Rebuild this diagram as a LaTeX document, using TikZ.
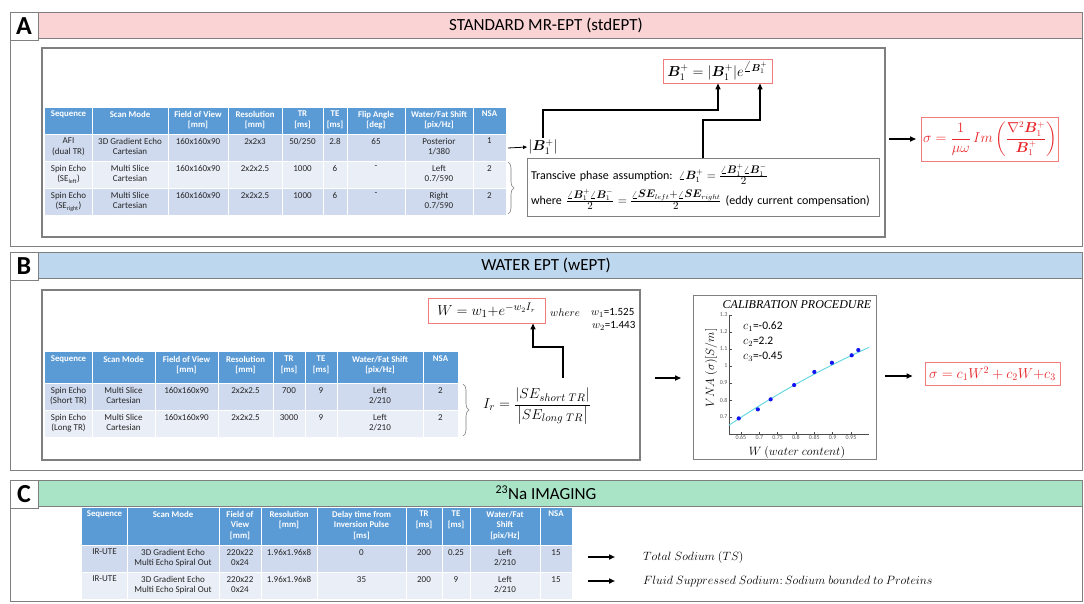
\documentclass[tikz,border=0pt]{standalone}
\usepackage{amsmath,bm}
\usepackage{fontspec}
\setmainfont{Carlito}
\newfontfamily\lserif{Liberation Serif}
\usetikzlibrary{arrows.meta,decorations.pathreplacing}
\definecolor{thead}{HTML}{5B9BD5}
\definecolor{rowa}{HTML}{CFDAEE}
\definecolor{rowb}{HTML}{E9EEF7}
\definecolor{pinkhd}{HTML}{FAD3D4}
\definecolor{bluehd}{HTML}{BDD7EE}
\definecolor{greenhd}{HTML}{A9E4C6}
\definecolor{framec}{HTML}{7F7F7F}
\definecolor{eqred}{HTML}{E8262A}
\definecolor{boxred}{HTML}{F07C7C}
\definecolor{fitcyan}{HTML}{5ED6DE}
\definecolor{dotblue}{HTML}{1414F0}
\newcommand\rowcells[4]{\foreach \n/\x/\t in {#4}{\node[#1] (#2\n) at (\x,#3) {\t};}}
\newcommand\numfr[2]{\frac{\text{\fontsize{10.5}{12}\selectfont$#1$}}{\text{\fontsize{10.5}{12}\selectfont$#2$}}}
\tikzset{
  hdrtxt/.style={anchor=north, align=center, text=white, font=\fontsize{8.8}{10.5}\selectfont\bfseries, inner sep=0pt},
  celltxt/.style={anchor=north, align=center, text=black!85, font=\fontsize{9}{10.5}\selectfont, inner sep=0pt},
  panelframe/.style={draw=framec, line width=0.7pt},
  innerframe/.style={draw=framec, line width=1.1pt},
  hbar/.style={draw=framec, line width=0.6pt, minimum width=1072pt, minimum height=26pt, font=\fontsize{17}{19}\selectfont, inner sep=0pt},
  letterbox/.style={fill=white, draw=framec, line width=0.6pt, minimum width=28pt, minimum height=28pt, font=\fontsize{26}{28}\selectfont\bfseries, inner sep=0pt},
  redbox/.style={draw=boxred, line width=0.9pt, inner sep=2pt},
  arr/.style={-{Triangle[length=6pt,width=5pt]}, line width=1.3pt},
  bigarr/.style={-{Triangle[length=6pt,width=5pt]}, line width=1.5pt},
  gridline/.style={white, line width=1pt},
  bracestyle/.style={decorate, decoration={brace, amplitude=6pt}, draw=framec, line width=0.6pt},
  ticklab/.style={font=\fontsize{6}{7}\selectfont, text=black!65, inner sep=1.2pt}
}
\begin{document}
\begin{tikzpicture}[x=1pt,y=-1pt]
\useasboundingbox (0,0) rectangle (1084,603);
\fill[white] (0,0) rectangle (1084,603);

% ---------- panel frames and headers ----------
\draw[panelframe] (10,12) rectangle (1082,246);
\draw[panelframe] (10,252) rectangle (1082,470);
\draw[panelframe] (10,480) rectangle (1082,601);
\node[hbar, fill=pinkhd] (hA) at (546,25) {STANDARD MR-EPT (stdEPT)};
\node[hbar, fill=bluehd] (hB) at (546,265) {WATER EPT (wEPT)};
\node[hbar, fill=greenhd] (hC) at (546,493) {\textsuperscript{23}Na IMAGING};
\node[letterbox] (lA) at (24,26) {A};
\node[letterbox] (lB) at (24,266) {B};
\node[letterbox] (lC) at (24,494) {C};

% ================= PANEL A =================
\draw[innerframe] (42,48) rectangle (885,237);
% table A
\fill[thead] (45,108) rectangle (506,134);
\fill[rowa] (45,134) rectangle (506,161);
\fill[rowb] (45,161) rectangle (506,188);
\fill[rowa] (45,188) rectangle (506,215);
\foreach \x in {92,168,228,282,323,347,405,473} \draw[gridline] (\x,108) -- (\x,215);
\foreach \y in {134,161,188} \draw[gridline] (45,\y) -- (506,\y);
\rowcells{hdrtxt}{ah}{111}{1/68.5/{Sequence}, 2/130/{Scan Mode}, 3/198/{Field of View\\{[mm]}}, 4/255/{Resolution\\{[mm]}}, 5/302.5/{TR\\{[ms]}}, 6/335/{TE\\{[ms]}}, 7/376/{Flip Angle\\{[deg]}}, 8/439/{Water/Fat Shift\\{[pix/Hz]}}, 9/489.5/{NSA}}
\rowcells{celltxt}{aa}{138}{1/68.5/{AFI\\(dual TR)}, 2/130/{3D Gradient Echo\\Cartesian}, 3/198/{160x160x90}, 4/255/{2x2x3}, 5/302.5/{50/250}, 6/335/{2.8}, 7/376/{65}, 8/439/{Posterior\\1/380}, 9/489.5/{1}}
\rowcells{celltxt}{ab}{165}{1/68.5/{Spin Echo\\(SE\textsubscript{left})}, 2/130/{Multi Slice\\Cartesian}, 3/198/{160x160x90}, 4/255/{2x2x2.5}, 5/302.5/{1000}, 6/335/{6}, 7/376/{-}, 8/439/{Left\\0.7/590}, 9/489.5/{2}}
\rowcells{celltxt}{ac}{192}{1/68.5/{Spin Echo\\(SE\textsubscript{right})}, 2/130/{Multi Slice\\Cartesian}, 3/198/{160x160x90}, 4/255/{2x2x2.5}, 5/302.5/{1000}, 6/335/{6}, 7/376/{-}, 8/439/{Right\\0.7/590}, 9/489.5/{2}}

% magnitude and formulas
\node[font=\fontsize{14.5}{16}\selectfont, inner sep=1pt] (b1abs) at (543,147) {$|\bm{B}_1^+|$};
\coordinate (tAout) at (508,148);
\draw[-{Triangle[length=4pt,width=3.5pt]}, line width=0.8pt] (tAout) -- (b1abs.west);
\node[redbox, font=\fontsize{14.5}{16}\selectfont, minimum width=109pt, minimum height=24pt] (b1eq) at (717.5,71) {$\bm{B}_1^+ = |\bm{B}_1^+|e^{\angle\bm{B}_1^+}$};
\node[draw=framec, line width=0.9pt, minimum width=352pt, minimum height=58pt, text width=344pt, align=left, font=\fontsize{12}{14}\selectfont, inner sep=4pt] (phase) at (703,187)
 {Transcive phase assumption: $\angle\bm{B}_1^+ = \numfr{\angle\bm{B}_1^+\angle\bm{B}_1^-}{2}$\\[4pt]
  where $\numfr{\angle\bm{B}_1^+\angle\bm{B}_1^-}{2} = \numfr{\angle\bm{SE}_{left}{+}\angle\bm{SE}_{right}}{2}$ (eddy current compensation)};
\coordinate (j1) at (718,110);
\draw[arr] (b1abs.north) |- (j1) -- (j1 |- b1eq.south);
\coordinate (ph2) at (703,158);
\coordinate (j2) at (760,120);
\draw[arr] (ph2) |- (j2) -- (j2 |- b1eq.south);
\coordinate (brA1) at (508,162);
\coordinate (brA2) at (508,214);
\draw[bracestyle] (brA1) -- (brA2);
% conductivity
\node[redbox, text=eqred, font=\fontsize{13.5}{15}\selectfont, minimum width=137pt, minimum height=44pt, inner sep=1pt] (sigA) at (990,139)
 {$\sigma = \dfrac{1}{\mu\omega}\, Im\left(\dfrac{\nabla^2\bm{B}_1^+}{\bm{B}_1^+}\right)$};
\coordinate (aout) at (889,139);
\draw[bigarr, shorten >=5pt] (aout) -- (sigA.west);

% ================= PANEL B =================
\draw[innerframe] (42,290) rectangle (640,460);
\fill[thead] (45,352) rectangle (458,383);
\fill[rowa] (45,383) rectangle (458,410);
\fill[rowb] (45,410) rectangle (458,437);
\foreach \x in {92,155,218,273,305,337,423} \draw[gridline] (\x,352) -- (\x,437);
\foreach \y in {383,410} \draw[gridline] (45,\y) -- (458,\y);
\rowcells{hdrtxt}{bh}{356}{1/68.5/{Sequence}, 2/123.5/{Scan Mode}, 3/186.5/{Field of View\\{[mm]}}, 4/245.5/{Resolution\\{[mm]}}, 5/289/{TR\\{[ms]}}, 6/321/{TE\\{[ms]}}, 7/380/{Water/Fat Shift\\{[pix/Hz]}}, 8/440.5/{NSA}}
\rowcells{celltxt}{ba}{387}{1/68.5/{Spin Echo\\(Short TR)}, 2/123.5/{Multi Slice\\Cartesian}, 3/186.5/{160x160x90}, 4/245.5/{2x2x2.5}, 5/289/{700}, 6/321/{9}, 7/380/{Left\\2/210}, 8/440.5/{2}}
\rowcells{celltxt}{bb}{414}{1/68.5/{Spin Echo\\(Long TR)}, 2/123.5/{Multi Slice\\Cartesian}, 3/186.5/{160x160x90}, 4/245.5/{2x2x2.5}, 5/289/{3000}, 6/321/{9}, 7/380/{Left\\2/210}, 8/440.5/{2}}
\coordinate (brB1) at (463,384);
\coordinate (brB2) at (463,436);
\draw[bracestyle] (brB1) -- (brB2);
\node[font=\fontsize{15.5}{17}\selectfont, inner sep=0pt] (ir) at (537,406) {$I_r = \dfrac{\left|SE_{short\ TR}\right|}{\left|SE_{long\ TR}\right|}$};
\node[redbox, font=\fontsize{15}{17}\selectfont, minimum width=117pt, minimum height=25pt, inner sep=1pt] (wbox) at (486.5,310.5) {$W = w_1{+}e^{-w_2 I_r}$};
\node[anchor=west, font=\fontsize{11}{12}\selectfont, inner sep=0pt] (wh) at (550,313) {$where$};
\node[anchor=west, font=\fontsize{11}{12}\selectfont, inner sep=0pt] (w1) at (591,313) {$w_1$=1.525};
\node[anchor=west, font=\fontsize{11}{12}\selectfont, inner sep=0pt] (w2) at (592,326) {$w_2$=1.443};
\coordinate (irtop) at (563,378);
\coordinate (jw) at (533,347);
\draw[arr] (irtop) |- (jw) -- (jw |- wbox.south);
% calibration plot
\node[draw=framec, line width=0.9pt, minimum width=183pt, minimum height=164pt, inner sep=0pt] (calib) at (785,377.5) {};
\coordinate (bout) at (655,378);
\draw[bigarr, shorten >=12pt] (bout) -- (calib.west |- bout);
\node[font=\fontsize{12}{14}\selectfont\lserif\itshape, inner sep=0pt] (ctitle) at (797,305) {CALIBRATION PROCEDURE};
\begin{scope}[xshift=502.6pt, yshift=-536pt, x=366.7pt, y=170pt]
  \draw[black!70, line width=0.5pt] (0.617,1.3) -- (0.617,0.6) -- (1.0,0.6);
  \foreach \v in {0.7,0.8,0.9,1.1,1.2,1.3} {
    \draw[black!70, line width=0.4pt] (0.617,\v) -- ++(0.008,0);
    \node[ticklab, anchor=east] (yt\v) at (0.617,\v) {\v};
  }
  \draw[black!70, line width=0.4pt] (0.617,1.0) -- ++(0.008,0);
  \node[ticklab, anchor=east] (yt1) at (0.617,1.0) {1};
  \foreach \v in {0.65,0.7,0.75,0.8,0.85,0.9,0.95} {
    \draw[black!70, line width=0.4pt] (\v,0.6) -- ++(0,0.012);
    \node[ticklab, anchor=north] (xt\v) at (\v,0.6) {\v};
  }
  \draw[fitcyan, line width=0.9pt] plot[domain=0.617:1.0, samples=40] (\x, {-0.62*\x*\x+2.2*\x-0.45-0.02});
  \foreach \px/\py [count=\i] in {0.644/0.692, 0.696/0.745, 0.731/0.804, 0.795/0.888, 0.850/0.965, 0.898/1.019, 0.952/1.063, 0.970/1.094}
    \fill[dotblue] (\px,\py) circle[radius=2.1pt];
\end{scope}
\node[rotate=90, font=\fontsize{12.5}{14}\selectfont, inner sep=0pt] (ylab) at (711,368) {$VNA\ (\sigma)[S/m]$};
\node[font=\fontsize{12}{14}\selectfont, inner sep=0pt] (xlab) at (797,452) {$W\ (water\ content)$};
\node[anchor=west, font=\fontsize{11.5}{13}\selectfont, inner sep=0pt] (c1) at (743,327) {$c_1$=-0.62};
\node[anchor=west, font=\fontsize{11.5}{13}\selectfont, inner sep=0pt] (c2) at (743,342) {$c_2$=2.2};
\node[anchor=west, font=\fontsize{11.5}{13}\selectfont, inner sep=0pt] (c3) at (743,357) {$c_3$=-0.45};
\node[redbox, text=eqred, font=\fontsize{14}{16}\selectfont, minimum width=135pt, minimum height=23pt, inner sep=1pt] (sigB) at (992.5,373.5) {$\sigma = c_1W^2 + c_2W{+}c_3$};
\coordinate (cout) at (885,376);
\draw[bigarr, shorten >=12pt] (cout) -- (sigB.west |- cout);

% ================= PANEL C =================
\fill[thead] (82,508) rectangle (572,545);
\fill[rowa] (82,545) rectangle (572,572);
\fill[rowb] (82,572) rectangle (572,599);
\foreach \x in {127,219,261,317,406,442,470,540} \draw[gridline] (\x,508) -- (\x,599);
\foreach \y in {545,572} \draw[gridline] (82,\y) -- (572,\y);
\rowcells{hdrtxt}{ch}{511}{1/104.5/{Sequence}, 2/173/{Scan Mode}, 3/240/{Field of\\View\\{[mm]}}, 4/289/{Resolution\\{[mm]}}, 5/361.5/{Delay time from\\Inversion Pulse\\{[ms]}}, 6/424/{TR\\{[ms]}}, 7/456/{TE\\{[ms]}}, 8/505/{Water/Fat\\Shift\\{[pix/Hz]}}, 9/556/{NSA}}
\rowcells{celltxt}{ca}{549}{1/104.5/{IR-UTE}, 2/173/{3D Gradient Echo\\Multi Echo Spiral Out}, 3/240/{220x22\\0x24}, 4/289/{1.96x1.96x8}, 5/361.5/{0}, 6/424/{200}, 7/456/{0.25}, 8/505/{Left\\2/210}, 9/556/{15}}
\rowcells{celltxt}{cb}{576}{1/104.5/{IR-UTE}, 2/173/{3D Gradient Echo\\Multi Echo Spiral Out}, 3/240/{220x22\\0x24}, 4/289/{1.96x1.96x8}, 5/361.5/{35}, 6/424/{200}, 7/456/{9}, 8/505/{Left\\2/210}, 9/556/{15}}
\node[anchor=west, font=\fontsize{12.7}{14}\selectfont, inner sep=0pt] (ts) at (643,557) {$Total\ Sodium\ (TS)$};
\node[anchor=west, font=\fontsize{12.7}{14}\selectfont, inner sep=0pt] (fs) at (643,581) {$Fluid\ Suppressed\ Sodium{:}\,Sodium\ bounded\ to\ Proteins$};
\coordinate (c1out) at (588,557);
\coordinate (c2out) at (588,581);
\draw[bigarr, shorten >=28pt] (c1out) -- (ts.west);
\draw[bigarr, shorten >=28pt] (c2out) -- (fs.west);
\end{tikzpicture}
\end{document}
